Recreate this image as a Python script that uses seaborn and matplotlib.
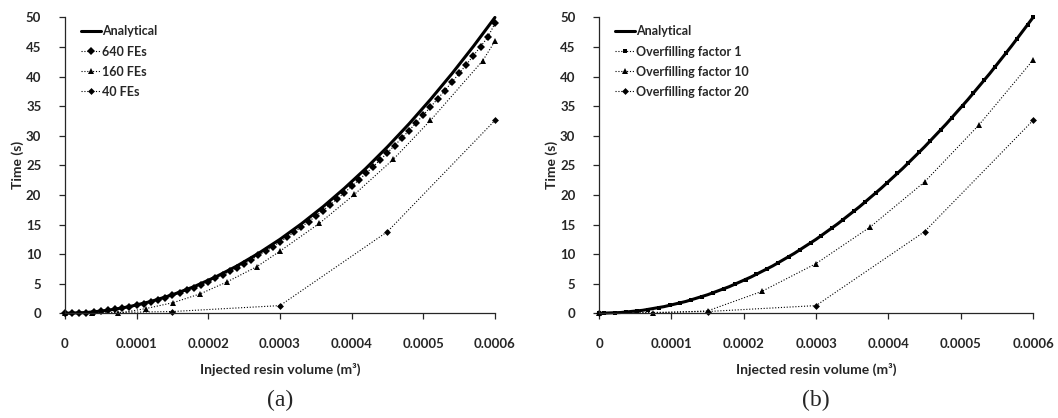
"""Resin injection time vs. injected volume: mesh refinement (a) and overfilling factor (b)."""

import matplotlib
matplotlib.use("Agg")
import matplotlib.pyplot as plt
import seaborn as sns

# ---- data --------------------------------------------------------------------
analytical_vol = [0, 0.00003, 0.00006, 0.00009, 0.00012, 0.00015, 0.00018, 0.00021,
                  0.00024, 0.00027, 0.0003, 0.00033, 0.00036, 0.00039, 0.00042,
                  0.00045, 0.00048, 0.00051, 0.00054, 0.00057, 0.0006]
analytical_time = [0, 0.13, 0.5, 1.13, 2.0, 3.13, 4.5, 6.13, 8.0, 10.13, 12.5, 15.13,
                   18.0, 21.13, 24.5, 28.13, 32.0, 36.13, 40.5, 45.13, 50.0]

fe640_vol = [0, 0.00001, 0.00002, 0.00003, 0.00004, 0.00005, 0.00006, 0.00007, 0.00008,
             0.00009, 0.0001, 0.00011, 0.00012, 0.00013, 0.00014, 0.00015, 0.00016,
             0.00017, 0.00018, 0.00019, 0.0002, 0.00021, 0.00022, 0.00023, 0.00024,
             0.00025, 0.00026, 0.00027, 0.00028, 0.00029, 0.0003, 0.00031, 0.00032,
             0.00033, 0.00034, 0.00035, 0.00036, 0.00037, 0.00038, 0.00039, 0.0004,
             0.00041, 0.00042, 0.00043, 0.00044, 0.00045, 0.00046, 0.00047, 0.00048,
             0.00049, 0.0005, 0.00051, 0.00052, 0.00053, 0.00054, 0.00055, 0.00056,
             0.00057, 0.00058, 0.00059, 0.0006]
fe640_time = [0, 0.01, 0.05, 0.12, 0.21, 0.33, 0.48, 0.66, 0.86, 1.09, 1.34, 1.62, 1.93,
              2.27, 2.63, 3.02, 3.43, 3.87, 4.34, 4.84, 5.36, 5.91, 6.49, 7.09, 7.72,
              8.38, 9.06, 9.77, 10.51, 11.27, 12.06, 12.88, 13.72, 14.60, 15.49, 16.42,
              17.37, 18.35, 19.35, 20.39, 21.44, 22.53, 23.64, 24.78, 25.95, 27.14,
              28.36, 29.61, 30.88, 32.18, 33.51, 34.86, 36.24, 37.65, 39.08, 40.54,
              42.03, 43.55, 45.09, 46.65, 49.0]

fe160_vol = [0, 0.0000375, 0.000074, 0.000113, 0.000151, 0.000189, 0.000226, 0.000268,
             0.0003, 0.000355, 0.000404, 0.000458, 0.00051, 0.000583, 0.0006]
fe160_time = [0, 0, 0, 0.8, 1.8, 3.3, 5.3, 7.9, 10.5, 15.2, 20.1, 26.0, 32.6, 42.7, 46.0]

fe40_vol = [0, 0.00015, 0.0003, 0.00045, 0.0006]
fe40_time = [0, 0.3, 1.3, 13.8, 32.6]

of1_vol = [0, 0.0000075, 0.0000225, 0.0000375, 0.0000525, 0.0000675, 0.0000825,
           0.0000975, 0.0001125, 0.0001275, 0.0001425, 0.0001575, 0.0001725, 0.0001875,
           0.0002025, 0.0002175, 0.0002325, 0.0002475, 0.0002625, 0.0002775, 0.0002925,
           0.0003075, 0.0003225, 0.0003375, 0.0003525, 0.0003675, 0.0003825, 0.0003975,
           0.0004125, 0.0004275, 0.0004425, 0.0004575, 0.0004725, 0.0004875, 0.0005025,
           0.0005175, 0.0005325, 0.0005475, 0.0005625, 0.0005775, 0.0005925, 0.0006]
of1_time = [0, 0.01, 0.07, 0.20, 0.38, 0.63, 0.95, 1.32, 1.76, 2.26, 2.82, 3.45, 4.13,
            4.88, 5.70, 6.57, 7.51, 8.51, 9.57, 10.70, 11.88, 13.13, 14.45, 15.82, 17.26,
            18.76, 20.32, 21.95, 23.63, 25.38, 27.20, 29.07, 31.01, 33.01, 35.07, 37.20,
            39.38, 41.63, 43.95, 46.32, 48.76, 50.0]

of10_vol = [0, 0.000075, 0.00015, 0.000225, 0.0003, 0.000375, 0.00045, 0.000525, 0.0006]
of10_time = [0, 0.05, 0.4, 3.7, 8.4, 14.6, 22.2, 31.8, 42.8]

of20_vol = [0, 0.00015, 0.0003, 0.00045, 0.0006]
of20_time = [0, 0.3, 1.3, 13.8, 32.6]

x_ticks = [0, 0.0001, 0.0002, 0.0003, 0.0004, 0.0005, 0.0006]
x_tick_labels = ["0", "0.0001", "0.0002", "0.0003", "0.0004", "0.0005", "0.0006"]
y_ticks = [0, 5, 10, 15, 20, 25, 30, 35, 40, 45, 50]
y_tick_labels = ["0", "5", "10", "15", "20", "25", "30", "35", "40", "45", "50"]

# ---- style -------------------------------------------------------------------
sns.set_theme(style="ticks")
plt.rcParams.update({
    "font.family": ["Lato", "DejaVu Sans"],
    "font.weight": "bold",
    "axes.linewidth": 0.9,
    "xtick.major.size": 4, "ytick.major.size": 4,
    "xtick.major.width": 0.9, "ytick.major.width": 0.9,
    "xtick.direction": "out", "ytick.direction": "out",
})

DOT = (0, (1, 1.6))


def draw_panel(ax, series, tag):
    sns.lineplot(x=analytical_vol, y=analytical_time, ax=ax, color="black",
                 linewidth=2.2, label="Analytical", sort=False, clip_on=False)
    for vol, time, marker, ms, label in series:
        sns.lineplot(x=vol, y=time, ax=ax, color="black", linewidth=0.8,
                     linestyle=DOT, marker=marker, markersize=ms,
                     markeredgewidth=0, label=label, sort=False, clip_on=False)

    ax.set_xlim(0, 0.0006)
    ax.set_ylim(0, 50)
    ax.set_xticks(x_ticks, x_tick_labels, fontsize=9.5, fontweight="bold")
    ax.set_yticks(y_ticks, y_tick_labels, fontsize=9.5, fontweight="bold")
    ax.tick_params(axis="x", pad=14)
    ax.tick_params(axis="y", pad=13)
    sns.despine(ax=ax)

    ax.set_xlabel("Injected resin volume (m³)", fontsize=10, fontweight="bold")
    ax.set_ylabel("Time (s)", fontsize=10, fontweight="bold")
    ax.xaxis.set_label_coords(0.5, -0.168)
    ax.yaxis.set_label_coords(-0.095, 0.5)
    ax.legend(loc="upper left", bbox_to_anchor=(0.025, 0.99), frameon=False,
              handlelength=1.6, handletextpad=0.1, labelspacing=0.65,
              borderaxespad=0, numpoints=1, prop={"weight": "bold", "size": 9})
    ax.text(0.5, -0.293, tag, transform=ax.transAxes, ha="center", va="center",
            fontsize=17, family="Liberation Serif", fontweight="normal")


fig = plt.figure(figsize=(10.58, 4.18), dpi=100)
ax_a = fig.add_axes([0.0614, 0.2505, 0.4064, 0.7077])
ax_b = fig.add_axes([0.5662, 0.2505, 0.4102, 0.7077])

draw_panel(ax_a, [
    (fe640_vol, fe640_time, "D", 4.5, "640 FEs"),
    (fe160_vol, fe160_time, "^", 4, "160 FEs"),
    (fe40_vol, fe40_time, "D", 3.5, "40 FEs"),
], "(a)")

draw_panel(ax_b, [
    (of1_vol, of1_time, "s", 3.5, "Overfilling factor 1"),
    (of10_vol, of10_time, "^", 4, "Overfilling factor 10"),
    (of20_vol, of20_time, "D", 3.5, "Overfilling factor 20"),
], "(b)")

fig.savefig("out.png", dpi=100)
